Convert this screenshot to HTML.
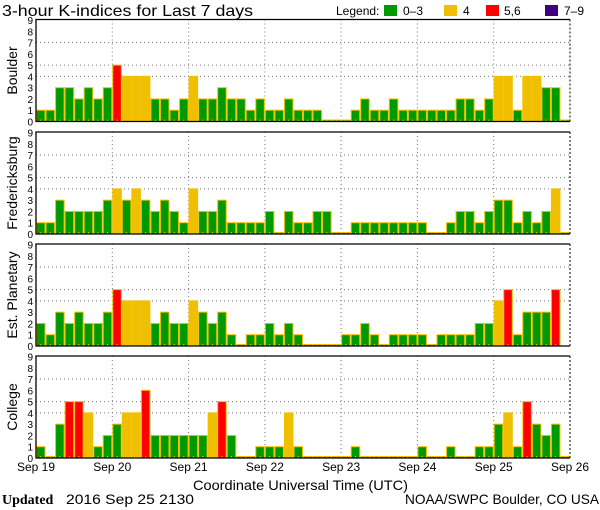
<!DOCTYPE html>
<html><head><meta charset="utf-8"><style>
html,body{margin:0;padding:0;background:#fff;}
svg{display:block;font-family:"Liberation Sans",sans-serif;}
</style></head><body>
<svg id="chart" width="600" height="510" viewBox="0 0 600 510" xmlns="http://www.w3.org/2000/svg">
<text x="2" y="16" font-size="16" fill="#000" textLength="251" lengthAdjust="spacingAndGlyphs">3-hour K-indices for Last 7 days</text>
<g font-size="12">
<text x="336" y="15">Legend:</text>
<rect x="384" y="5" width="13" height="11" fill="#009900"/>
<text x="403" y="15">0–3</text>
<rect x="444" y="5" width="13" height="11" fill="#f0c000"/>
<text x="463" y="15">4</text>
<rect x="486" y="5" width="13" height="11" fill="#ff0000"/>
<text x="504" y="15">5,6</text>
<rect x="545" y="5" width="13" height="11" fill="#400080"/>
<text x="564" y="15">7–9</text>
</g>
<g id="panels"></g>
<text x="193" y="490" font-size="14" textLength="215" lengthAdjust="spacingAndGlyphs">Coordinate Universal Time (UTC)</text>
<text x="2" y="504" font-size="14" font-family="Liberation Serif, serif" font-weight="bold">Updated</text>
<text x="66" y="504" font-size="14" textLength="128" lengthAdjust="spacingAndGlyphs">2016 Sep 25 2130</text>
<text x="405" y="504" font-size="14" textLength="194" lengthAdjust="spacingAndGlyphs">NOAA/SWPC Boulder, CO USA</text>
</svg>
<script>
const stations = ["Boulder","Fredericksburg","Est. Planetary","College"];
const boulder = [1,1,3,3,2,3,2,3,5,4,4,4,2,2,1,2,4,2,2,3,2,2,1,2,1,1,2,1, 1,1,0,0,0,1,2,1,1,2,1,1,1,1,1,1,2,2,1,2,4,4,1,4,4,3,3,0];
const fredericksburg = [1,1,3,2,2,2,2,3,4,3,4,3,2,3,2,1,4,2,2,3,1,1,1,1,2,0,2,1, 1,2,2,0,0,1,1,1,1,1,1,1,1,0,0,1,2,2,1,2,3,3,1,2,1,2,4,0];
const planetary = [2,1,3,2,3,2,2,3,5,4,4,4,2,3,2,2,4,3,2,3,1,0,1,1,2,1,2,1, 0,0,0,0,1,1,2,1,0,1,1,1,1,0,1,1,1,1,2,2,4,5,1,3,3,3,5,-1];
const college = [1,0,3,5,5,4,1,2,3,4,4,6,2,2,2,2,2,2,4,5,2,0,0,1,1,1,4,1, 0,0,0,0,0,1,0,0,0,0,0,0,1,0,0,1,0,0,1,1,3,4,1,5,3,2,3,0];
const dayLabels = ["Sep 19","Sep 20","Sep 21","Sep 22","Sep 23","Sep 24","Sep 25","Sep 26"];
const yTicks = [0,1,2,3,4,5,6,7,8,9];
const series = [boulder, fredericksburg, planetary, college];

const NS="http://www.w3.org/2000/svg";
const X0=36, X1=570, N=56;
const bw=(X1-X0)/N;
const tops=[19.5,132,244,356], H=102;
const xS=i=>X0+i*bw;
function mk(tag,attrs,parent){const e=document.createElementNS(NS,tag);for(const k in attrs)e.setAttribute(k,attrs[k]);parent.appendChild(e);return e;}
function color(v){return v<=3?"#009900":v==4?"#f0c000":v<=6?"#ff0000":"#400080";}
const root=document.getElementById("panels");
series.forEach((data,p)=>{
  const top=tops[p], bot=top+H;
  const yS=v=>bot-v*(H-0.5)/9;
  const g=mk("g",{},root);
  
  
  [4,5,7].forEach(v=>{
    const l=mk("line",{x1:X0,x2:X1,y1:yS(v),y2:yS(v),stroke:"#777","stroke-dasharray":"1,3"},g);
    
    
  });
  for(let d=1;d<7;d++){
    const l=mk("line",{x1:xS(d*8),x2:xS(d*8),y1:top,y2:bot,stroke:"#777","stroke-dasharray":"1,3"},g);
    
    
  }
  data.forEach((v,i)=>{
    if(v<0) return;
    const h=v===0?1.5:bot-yS(v);
    const r=mk("rect",{x:xS(i)+0.5,y:bot-h,width:bw-1,height:h,fill:color(v),stroke:"#f0c000","stroke-width":1},g);
    
    
    const t=mk("line",{x1:xS(i)+bw/2,x2:xS(i)+bw/2,y1:bot-2,y2:bot,stroke:"#f0c000"},g);
    
    
  });
  const f1=mk("polyline",{points:`${X1},${top} ${X0},${top} ${X0},${bot} ${X1},${bot}`,fill:"none",stroke:"#000","stroke-width":1.3},g);
  
  
  const f2=mk("line",{x1:X1,x2:X1,y1:top,y2:bot,stroke:"#000","stroke-dasharray":"2,2"},g);
  
  
  yTicks.forEach(v=>{
    const t=mk("text",{x:33,y:yS(v)+4,"font-size":10,"text-anchor":"end"},g);
    t.textContent=v;
    
    
  });
  const yl=mk("text",{x:0,y:0,"font-size":14,"text-anchor":"middle",transform:`translate(17,${top+H/2}) rotate(-90)`},g);
  yl.textContent=stations[p];
  
  
});
dayLabels.forEach((s,d)=>{
  const t=mk("text",{x:xS(d*8),y:471,"font-size":12,"text-anchor":"middle"},root);
  t.textContent=s;
  
  
});
</script>
</body></html>
